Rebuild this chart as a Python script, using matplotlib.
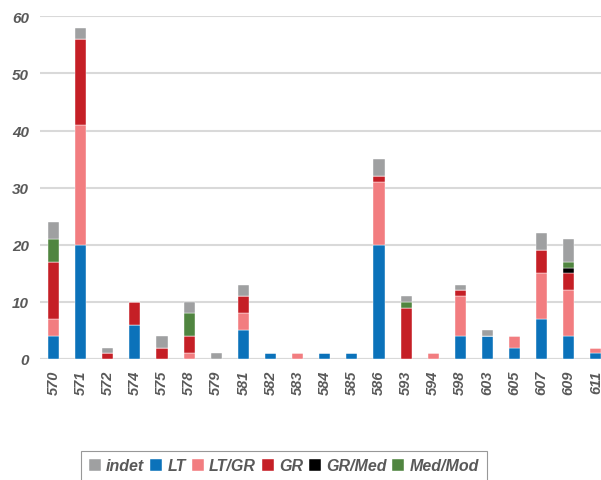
import numpy as np
import matplotlib
matplotlib.use('Agg')
import matplotlib.pyplot as plt

plt.rcParams['font.family'] = ['Liberation Sans', 'DejaVu Sans']

# categories (site numbers) and stacked series values
sites = ['570', '571', '572', '574', '575', '578', '579', '581', '582', '583', '584',
         '585', '586', '593', '594', '598', '603', '605', '607', '609', '611']
lt     = [4, 20, 0, 6, 0, 0, 0, 5, 1, 0, 1, 1, 20, 0, 0, 4, 4, 2, 7, 4, 1]
lt_gr  = [3, 21, 0, 0, 0, 1, 0, 3, 0, 1, 0, 0, 11, 0, 1, 7, 0, 2, 8, 8, 1]
gr     = [10, 15, 1, 4, 2, 3, 0, 3, 0, 0, 0, 0, 1, 9, 0, 1, 0, 0, 4, 3, 0]
gr_med = [0, 0, 0, 0, 0, 0, 0, 0, 0, 0, 0, 0, 0, 0, 0, 0, 0, 0, 0, 1, 0]
med_mod = [4, 0, 0, 0, 0, 4, 0, 0, 0, 0, 0, 0, 0, 1, 0, 0, 0, 0, 0, 1, 0]
indet  = [3, 2, 1, 0, 2, 2, 1, 2, 0, 0, 0, 0, 3, 1, 0, 1, 1, 0, 3, 4, 0]

series = [('LT', lt, '#0B72BA'),
          ('LT/GR', lt_gr, '#F27D80'),
          ('GR', gr, '#C51F26'),
          ('GR/Med', gr_med, '#000000'),
          ('Med/Mod', med_mod, '#508540'),
          ('indet', indet, '#9FA0A1')]

fig = plt.figure(figsize=(6.01, 4.81), dpi=100)
# axes run past the right edge, like the cropped original
ax = fig.add_axes([40 / 601, 121 / 481, 569.5 / 601, 342.7 / 481])

x = np.arange(len(sites))
bottom = np.zeros(len(sites))
handles = {}
for name, vals, col in series:
    vals = np.array(vals, dtype=float)
    b = ax.bar(x, vals, 0.41, bottom=bottom, color=col, label=name, zorder=3,
               edgecolor='white', linewidth=0.3)
    handles[name] = b
    bottom += vals

ax.set_xlim(-0.5, len(sites) - 0.5)
ax.set_ylim(0, 60)
ax.set_yticks(range(0, 61, 10))
ax.yaxis.grid(True, color='#D9D9D9', linewidth=1.5, zorder=0)
ax.set_axisbelow(True)
for s in ['top', 'right', 'left', 'bottom']:
    ax.spines[s].set_visible(False)
ax.axhline(0, color='#D9D9D9', linewidth=1.5, zorder=1)

ax.tick_params(axis='both', length=0)
ax.tick_params(axis='y', pad=8)
ax.tick_params(axis='x', pad=8)
ax.set_xticks(x)
ax.set_xticklabels(sites, rotation=90, fontsize=10.5, fontweight='bold',
                   fontstyle='italic', color='#595959')
for lab in ax.get_yticklabels():
    lab.set_fontsize(11)
    lab.set_fontweight('bold')
    lab.set_fontstyle('italic')
    lab.set_color('#595959')

order = ['indet', 'LT', 'LT/GR', 'GR', 'GR/Med', 'Med/Mod']
leg = fig.legend([handles[n] for n in order], order, loc='center',
                 bbox_to_anchor=(284 / 601, 14 / 481), ncol=6, frameon=True,
                 fancybox=False, handlelength=0.75, handleheight=0.75,
                 handletextpad=0.35, columnspacing=0.35, borderpad=0.45,
                 prop={'size': 11.5, 'weight': 'bold', 'style': 'italic'})
leg.get_frame().set_edgecolor('#7F7F7F')
leg.get_frame().set_linewidth(0.8)
for t in leg.get_texts():
    t.set_color('#595959')

fig.savefig('out.png', dpi=100)
